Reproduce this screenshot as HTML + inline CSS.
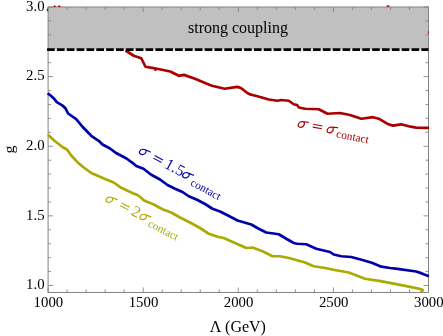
<!DOCTYPE html>
<html><head><meta charset="utf-8"><title>plot</title>
<style>
html,body{margin:0;padding:0;background:#fff;}
body{width:443px;height:336px;overflow:hidden;font-family:"Liberation Serif",serif;}
svg{display:block;will-change:transform;}
text{font-family:"Liberation Serif",serif;}
</style></head><body>
<svg width="443" height="336" viewBox="0 0 443 336">
<rect width="443" height="336" fill="#ffffff"/>
<rect x="48.10" y="7.00" width="380.40" height="42.55" fill="#c0c0c0"/>
<g stroke="#848484" stroke-width="1" fill="none">
<rect x="48.10" y="7.00" width="380.40" height="285.45"/>
</g>
<g stroke="#858585" stroke-width="0.9" fill="none">
<line x1="48.10" y1="292.45" x2="48.10" y2="287.45"/>
<line x1="48.10" y1="7.00" x2="48.10" y2="12.00"/>
<line x1="67.12" y1="292.45" x2="67.12" y2="289.45"/>
<line x1="67.12" y1="7.00" x2="67.12" y2="10.00"/>
<line x1="86.14" y1="292.45" x2="86.14" y2="289.45"/>
<line x1="86.14" y1="7.00" x2="86.14" y2="10.00"/>
<line x1="105.16" y1="292.45" x2="105.16" y2="289.45"/>
<line x1="105.16" y1="7.00" x2="105.16" y2="10.00"/>
<line x1="124.18" y1="292.45" x2="124.18" y2="289.45"/>
<line x1="124.18" y1="7.00" x2="124.18" y2="10.00"/>
<line x1="143.20" y1="292.45" x2="143.20" y2="287.45"/>
<line x1="143.20" y1="7.00" x2="143.20" y2="12.00"/>
<line x1="162.22" y1="292.45" x2="162.22" y2="289.45"/>
<line x1="162.22" y1="7.00" x2="162.22" y2="10.00"/>
<line x1="181.24" y1="292.45" x2="181.24" y2="289.45"/>
<line x1="181.24" y1="7.00" x2="181.24" y2="10.00"/>
<line x1="200.26" y1="292.45" x2="200.26" y2="289.45"/>
<line x1="200.26" y1="7.00" x2="200.26" y2="10.00"/>
<line x1="219.28" y1="292.45" x2="219.28" y2="289.45"/>
<line x1="219.28" y1="7.00" x2="219.28" y2="10.00"/>
<line x1="238.30" y1="292.45" x2="238.30" y2="287.45"/>
<line x1="238.30" y1="7.00" x2="238.30" y2="12.00"/>
<line x1="257.32" y1="292.45" x2="257.32" y2="289.45"/>
<line x1="257.32" y1="7.00" x2="257.32" y2="10.00"/>
<line x1="276.34" y1="292.45" x2="276.34" y2="289.45"/>
<line x1="276.34" y1="7.00" x2="276.34" y2="10.00"/>
<line x1="295.36" y1="292.45" x2="295.36" y2="289.45"/>
<line x1="295.36" y1="7.00" x2="295.36" y2="10.00"/>
<line x1="314.38" y1="292.45" x2="314.38" y2="289.45"/>
<line x1="314.38" y1="7.00" x2="314.38" y2="10.00"/>
<line x1="333.40" y1="292.45" x2="333.40" y2="287.45"/>
<line x1="333.40" y1="7.00" x2="333.40" y2="12.00"/>
<line x1="352.42" y1="292.45" x2="352.42" y2="289.45"/>
<line x1="352.42" y1="7.00" x2="352.42" y2="10.00"/>
<line x1="371.44" y1="292.45" x2="371.44" y2="289.45"/>
<line x1="371.44" y1="7.00" x2="371.44" y2="10.00"/>
<line x1="390.46" y1="292.45" x2="390.46" y2="289.45"/>
<line x1="390.46" y1="7.00" x2="390.46" y2="10.00"/>
<line x1="409.48" y1="292.45" x2="409.48" y2="289.45"/>
<line x1="409.48" y1="7.00" x2="409.48" y2="10.00"/>
<line x1="428.50" y1="292.45" x2="428.50" y2="287.45"/>
<line x1="428.50" y1="7.00" x2="428.50" y2="12.00"/>
<line x1="48.10" y1="285.50" x2="53.10" y2="285.50"/>
<line x1="428.50" y1="285.50" x2="423.50" y2="285.50"/>
<line x1="48.10" y1="271.57" x2="51.10" y2="271.57"/>
<line x1="428.50" y1="271.57" x2="425.50" y2="271.57"/>
<line x1="48.10" y1="257.65" x2="51.10" y2="257.65"/>
<line x1="428.50" y1="257.65" x2="425.50" y2="257.65"/>
<line x1="48.10" y1="243.72" x2="51.10" y2="243.72"/>
<line x1="428.50" y1="243.72" x2="425.50" y2="243.72"/>
<line x1="48.10" y1="229.80" x2="51.10" y2="229.80"/>
<line x1="428.50" y1="229.80" x2="425.50" y2="229.80"/>
<line x1="48.10" y1="215.88" x2="53.10" y2="215.88"/>
<line x1="428.50" y1="215.88" x2="423.50" y2="215.88"/>
<line x1="48.10" y1="201.95" x2="51.10" y2="201.95"/>
<line x1="428.50" y1="201.95" x2="425.50" y2="201.95"/>
<line x1="48.10" y1="188.02" x2="51.10" y2="188.02"/>
<line x1="428.50" y1="188.02" x2="425.50" y2="188.02"/>
<line x1="48.10" y1="174.10" x2="51.10" y2="174.10"/>
<line x1="428.50" y1="174.10" x2="425.50" y2="174.10"/>
<line x1="48.10" y1="160.18" x2="51.10" y2="160.18"/>
<line x1="428.50" y1="160.18" x2="425.50" y2="160.18"/>
<line x1="48.10" y1="146.25" x2="53.10" y2="146.25"/>
<line x1="428.50" y1="146.25" x2="423.50" y2="146.25"/>
<line x1="48.10" y1="132.32" x2="51.10" y2="132.32"/>
<line x1="428.50" y1="132.32" x2="425.50" y2="132.32"/>
<line x1="48.10" y1="118.40" x2="51.10" y2="118.40"/>
<line x1="428.50" y1="118.40" x2="425.50" y2="118.40"/>
<line x1="48.10" y1="104.48" x2="51.10" y2="104.48"/>
<line x1="428.50" y1="104.48" x2="425.50" y2="104.48"/>
<line x1="48.10" y1="90.55" x2="51.10" y2="90.55"/>
<line x1="428.50" y1="90.55" x2="425.50" y2="90.55"/>
<line x1="48.10" y1="76.62" x2="53.10" y2="76.62"/>
<line x1="428.50" y1="76.62" x2="423.50" y2="76.62"/>
<line x1="48.10" y1="62.70" x2="51.10" y2="62.70"/>
<line x1="428.50" y1="62.70" x2="425.50" y2="62.70"/>
<line x1="48.10" y1="48.77" x2="51.10" y2="48.77"/>
<line x1="428.50" y1="48.77" x2="425.50" y2="48.77"/>
<line x1="48.10" y1="34.85" x2="51.10" y2="34.85"/>
<line x1="428.50" y1="34.85" x2="425.50" y2="34.85"/>
<line x1="48.10" y1="20.92" x2="51.10" y2="20.92"/>
<line x1="428.50" y1="20.92" x2="425.50" y2="20.92"/>
<line x1="48.10" y1="7.00" x2="53.10" y2="7.00"/>
<line x1="428.50" y1="7.00" x2="423.50" y2="7.00"/>
</g>
<g fill="none" stroke-linejoin="round" stroke-linecap="butt" stroke-width="2.7">
<polyline stroke="#aa0000" points="125.50,50.50 133.75,55.75 141.25,58.25 145.50,66.75 155.00,68.40 155.40,69.60 155.90,68.50 170.30,71.50 178.90,75.80 183.90,74.90 195.00,78.75 208.75,84.50 212.00,85.70 224.50,88.75 237.20,86.90 240.00,87.60 242.60,89.20 247.30,93.00 250.00,94.40 252.50,95.00 257.50,96.25 268.75,99.50 277.50,100.75 281.25,100.00 288.75,100.75 293.75,104.25 297.00,105.00 299.00,107.50 305.00,108.75 318.75,109.25 327.50,113.75 340.00,113.00 350.00,115.00 361.25,118.75 373.10,117.20 378.70,118.70 387.20,123.70 392.80,125.60 401.20,124.30 410.60,126.70 416.20,127.70 429.00,127.80"/>
<polyline stroke="#0000aa" points="47.60,93.30 50.00,95.00 53.60,98.20 56.80,102.20 62.20,105.40 65.40,108.10 68.10,113.50 76.20,119.20 82.50,126.75 91.25,135.80 98.75,140.80 102.50,144.50 110.00,148.50 116.50,153.30 126.50,158.50 132.50,162.80 136.25,166.00 143.50,168.75 151.25,174.70 160.00,179.50 167.50,185.00 175.00,188.75 182.50,192.00 188.75,196.25 197.50,200.00 205.00,204.00 212.50,208.75 220.00,211.50 228.00,215.50 237.50,220.50 251.25,224.50 258.75,228.75 266.25,232.50 278.75,234.25 286.25,238.75 293.75,243.00 297.00,243.75 306.25,244.25 316.25,248.75 330.00,252.00 333.75,254.50 341.25,256.25 351.25,257.00 362.50,260.00 372.50,263.00 381.25,266.70 390.00,268.00 397.50,268.90 416.20,271.50 421.80,273.40 428.90,276.20"/>
<polyline stroke="#aaaa00" points="48.00,134.70 55.00,141.25 62.80,147.30 67.00,149.50 71.25,155.50 77.50,162.20 83.75,167.50 91.25,173.00 98.75,176.25 106.25,179.50 113.75,182.50 121.25,187.80 127.50,190.80 133.00,193.20 137.50,195.00 140.50,197.30 143.80,200.20 147.00,201.80 153.75,204.50 162.50,209.25 171.25,212.50 180.00,217.50 190.00,222.50 200.00,228.00 208.75,233.75 217.50,236.75 223.75,238.00 235.00,243.00 246.25,248.00 252.50,247.50 262.50,251.25 272.50,256.25 280.00,256.25 290.00,258.25 305.00,262.50 313.75,266.25 325.00,268.00 337.50,270.50 348.75,272.50 365.00,278.75 380.60,281.20 397.50,284.40 416.20,288.10 421.30,289.20 422.80,290.20 421.00,292.40"/>
</g>
<g fill="#aa0000" stroke="none">
<rect x="46.8" y="8.5" width="1.3" height="2.7" rx="0.6"/>
<path d="M53.1 6.9 L54.6 5 L56.2 6.9 Z"/>
<path d="M57.6 6.9 L59.2 5 L61 6.9 Z"/>
<rect x="386.6" y="5.2" width="2.8" height="1.6" rx="0.6"/>
<rect x="428.05" y="30.8" width="0.9" height="2.6" rx="0.4"/>
</g>
<line x1="47.05" y1="49.55" x2="428.5" y2="49.55" stroke="#000" stroke-width="2.7" stroke-dasharray="7.7 2.15"/>
<g font-size="14.8px" fill="#000">
<text x="48.40" y="306.7" text-anchor="middle">1000</text>
<text x="143.50" y="306.7" text-anchor="middle">1500</text>
<text x="238.60" y="306.7" text-anchor="middle">2000</text>
<text x="333.70" y="306.7" text-anchor="middle">2500</text>
<text x="428.80" y="306.7" text-anchor="middle">3000</text>
<text x="44.6" y="289.20" text-anchor="end">1.0</text>
<text x="44.6" y="219.57" text-anchor="end">1.5</text>
<text x="44.6" y="149.95" text-anchor="end">2.0</text>
<text x="44.6" y="80.33" text-anchor="end">2.5</text>
<text x="44.6" y="10.70" text-anchor="end">3.0</text>
</g>
<text x="237.9" y="332.4" font-size="16px" text-anchor="middle">&#923; (GeV)</text>
<text transform="translate(13.55,149.6) rotate(-90) scale(1,0.87)" font-size="16px" text-anchor="middle">g</text>
<text x="238" y="33.3" font-size="16px" text-anchor="middle">strong coupling</text>
<g transform="translate(297.10,127.10) rotate(10.70)" fill="#aa0000" font-size="16px">
<path d="M10.4,-6.9 L4.9,-6.4 C2.3,-6.4 0.7,-4.3 0.7,-2.4 C0.7,-1.2 1.6,-0.4 2.9,-0.4 C5.1,-0.4 6.6,-2.5 6.6,-4.3 C6.6,-5.4 6.1,-6.15 5.1,-6.45" fill="none" stroke="#aa0000" stroke-width="1.22" stroke-linecap="round" stroke-linejoin="round" transform="translate(0.00,0)"/>
<path d="M15.40,-5.8 h9.3 M15.40,-2.9 h9.3" stroke="#aa0000" stroke-width="1.05" fill="none"/>
<path d="M10.4,-6.9 L4.9,-6.4 C2.3,-6.4 0.7,-4.3 0.7,-2.4 C0.7,-1.2 1.6,-0.4 2.9,-0.4 C5.1,-0.4 6.6,-2.5 6.6,-4.3 C6.6,-5.4 6.1,-6.15 5.1,-6.45" fill="none" stroke="#aa0000" stroke-width="1.22" stroke-linecap="round" stroke-linejoin="round" transform="translate(29.40,0.00)"/>
<text x="39.90" y="2.80" font-size="11.40px">contact</text>
</g>
<g transform="translate(137.96,153.10) rotate(28.40)" fill="#0000aa" font-size="16px">
<path d="M10.4,-6.9 L4.9,-6.4 C2.3,-6.4 0.7,-4.3 0.7,-2.4 C0.7,-1.2 1.6,-0.4 2.9,-0.4 C5.1,-0.4 6.6,-2.5 6.6,-4.3 C6.6,-5.4 6.1,-6.15 5.1,-6.45" fill="none" stroke="#0000aa" stroke-width="1.22" stroke-linecap="round" stroke-linejoin="round" transform="translate(0.00,0)"/>
<path d="M15.95,-5.8 h9.3 M15.95,-2.9 h9.3" stroke="#0000aa" stroke-width="1.05" fill="none"/>
<text x="29.30" y="0.30" font-size="16.00px">1.5</text>
<path d="M10.4,-6.9 L4.9,-6.4 C2.3,-6.4 0.7,-4.3 0.7,-2.4 C0.7,-1.2 1.6,-0.4 2.9,-0.4 C5.1,-0.4 6.6,-2.5 6.6,-4.3 C6.6,-5.4 6.1,-6.15 5.1,-6.45" fill="none" stroke="#0000aa" stroke-width="1.22" stroke-linecap="round" stroke-linejoin="round" transform="translate(49.00,0.00)"/>
<text x="60.70" y="3.20" font-size="11.30px">contact</text>
</g>
<g transform="translate(104.60,201.00) rotate(27.00)" fill="#aaaa00" font-size="16px">
<path d="M10.4,-6.9 L4.9,-6.4 C2.3,-6.4 0.7,-4.3 0.7,-2.4 C0.7,-1.2 1.6,-0.4 2.9,-0.4 C5.1,-0.4 6.6,-2.5 6.6,-4.3 C6.6,-5.4 6.1,-6.15 5.1,-6.45" fill="none" stroke="#aaaa00" stroke-width="1.22" stroke-linecap="round" stroke-linejoin="round" transform="translate(0.00,0)"/>
<path d="M15.95,-5.8 h9.3 M15.95,-2.9 h9.3" stroke="#aaaa00" stroke-width="1.05" fill="none"/>
<text x="29.00" y="0.40" font-size="16.00px">2</text>
<path d="M10.4,-6.9 L4.9,-6.4 C2.3,-6.4 0.7,-4.3 0.7,-2.4 C0.7,-1.2 1.6,-0.4 2.9,-0.4 C5.1,-0.4 6.6,-2.5 6.6,-4.3 C6.6,-5.4 6.1,-6.15 5.1,-6.45" fill="none" stroke="#aaaa00" stroke-width="1.22" stroke-linecap="round" stroke-linejoin="round" transform="translate(38.00,0.10)"/>
<text x="49.30" y="2.90" font-size="11.30px">contact</text>
</g>
</svg>
</body></html>
